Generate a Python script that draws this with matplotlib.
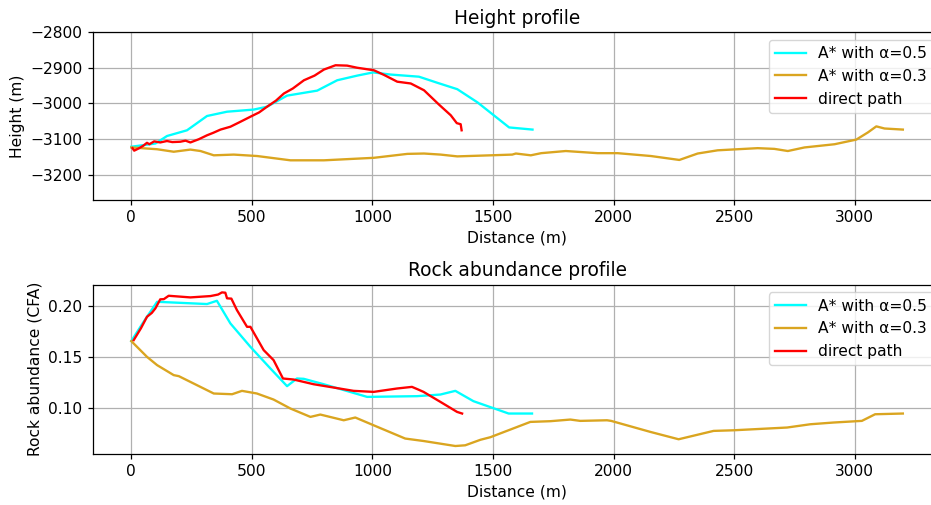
import matplotlib
matplotlib.use("Agg")
import matplotlib.pyplot as plt

# Height profile data
h_a05_x = [0, 100, 148, 231, 314, 397, 508, 563, 646, 771, 854, 937, 1003, 1075,
           1193, 1269, 1352, 1436, 1567, 1664]
h_a05_y = [-3121, -3112, -3091, -3075, -3035, -3023, -3017, -3009, -2978, -2964,
           -2935, -2922, -2913, -2919, -2925, -2942, -2960, -2997, -3067, -3073]

h_a03_x = [0, 107, 176, 245, 287, 342, 425, 522, 660, 799, 1006, 1145, 1214, 1283,
           1352, 1491, 1580, 1595, 1657, 1700, 1802, 1934, 2017, 2155, 2273, 2349,
           2432, 2598, 2667, 2723, 2792, 2917, 3007, 3055, 3090, 3124, 3200]
h_a03_y = [-3123, -3128, -3135, -3129, -3133, -3145, -3143, -3147, -3159, -3159,
           -3152, -3141, -3140, -3143, -3148, -3145, -3143, -3140, -3145, -3139,
           -3133, -3139, -3139, -3147, -3158, -3140, -3131, -3125, -3127, -3133,
           -3123, -3114, -3101, -3081, -3064, -3070, -3073]

h_dir_x = [5, 12, 30, 50, 65, 75, 95, 120, 148, 170, 203, 225, 245, 280, 314, 340,
           370, 411, 450, 494, 530, 563, 600, 633, 670, 716, 760, 799, 847, 895,
           937, 1006, 1048, 1103, 1159, 1214, 1276, 1325, 1350, 1366, 1370]
h_dir_y = [-3125, -3132, -3126, -3118, -3110, -3114, -3106, -3109, -3105, -3108,
           -3107, -3104, -3109, -3100, -3089, -3082, -3073, -3065, -3052, -3037,
           -3025, -3009, -2992, -2972, -2958, -2935, -2922, -2905, -2893, -2894,
           -2900, -2907, -2920, -2939, -2944, -2963, -3003, -3033, -3055, -3058,
           -3075]

# Rock abundance data
r_a05_x = [0, 51, 107, 314, 355, 411, 494, 577, 646, 687, 715, 798, 978, 1185,
           1282, 1344, 1419, 1565, 1662]
r_a05_y = [0.1654, 0.1843, 0.2039, 0.2017, 0.2049, 0.1827, 0.1598, 0.1386, 0.1213,
           0.1288, 0.1285, 0.1232, 0.1108, 0.1115, 0.1131, 0.1167, 0.1066, 0.0945,
           0.0945]

r_a03_x = [0, 65, 107, 176, 197, 342, 418, 459, 521, 590, 660, 743, 784, 881, 929,
           1005, 1136, 1212, 1344, 1385, 1448, 1489, 1655, 1738, 1821, 1862, 1973,
           1990, 2153, 2270, 2415, 2498, 2720, 2816, 2913, 3030, 3085, 3200]
r_a03_y = [0.1654, 0.1500, 0.1419, 0.1321, 0.1311, 0.1141, 0.1134, 0.1167, 0.1141,
           0.1082, 0.0994, 0.0912, 0.0935, 0.0879, 0.0906, 0.0830, 0.0700, 0.0676,
           0.0627, 0.0634, 0.0688, 0.0713, 0.0863, 0.0870, 0.0886, 0.0873, 0.0879,
           0.0873, 0.0765, 0.0693, 0.0775, 0.0781, 0.0808, 0.0840, 0.0857, 0.0873,
           0.0938, 0.0945]

r_dir_x = [10, 40, 65, 85, 100, 120, 135, 155, 245, 328, 360, 376, 390, 397, 415,
           438, 480, 494, 549, 590, 629, 673, 756, 922, 1005, 1102, 1164, 1190, 1212,
           1282, 1351, 1372]
r_dir_y = [0.1664, 0.1780, 0.1892, 0.1930, 0.1975, 0.2063, 0.2065, 0.2098, 0.2082,
           0.2095, 0.2110, 0.2131, 0.2128, 0.2073, 0.2070, 0.1958, 0.1794, 0.1794,
           0.1566, 0.1468, 0.1288, 0.1278, 0.1232, 0.1167, 0.1157, 0.1190, 0.1206,
           0.1180, 0.1157, 0.1059, 0.0961, 0.0945]

labels = ["A* with α=0.5", "A* with α=0.3", "direct path"]
colors = ["cyan", "goldenrod", "red"]

# the reference looks rendered a bit larger than default
k = 1.12
plt.rcParams.update({
    "font.size": 10 * k,
    "lines.linewidth": 1.5 * k,
    "grid.linewidth": 0.8 * k,
    "axes.linewidth": 0.8 * k,
    "xtick.major.size": 3.5 * k,
    "ytick.major.size": 3.5 * k,
    "xtick.major.width": 0.8 * k,
    "ytick.major.width": 0.8 * k,
})

fig = plt.figure(figsize=(9.31, 5.05), dpi=100)
ax1 = fig.add_axes([0.0996, 0.604, 0.9116, 0.3326])
ax2 = fig.add_axes([0.0996, 0.1016, 0.9116, 0.3346])

ax1.plot(h_a05_x, h_a05_y, color=colors[0], label=labels[0])
ax1.plot(h_a03_x, h_a03_y, color=colors[1], label=labels[1])
ax1.plot(h_dir_x, h_dir_y, color=colors[2], label=labels[2])
ax1.set_ylim(-3270, -2800)
ax1.set_title("Height profile")
ax1.set_xlabel("Distance (m)")
ax1.set_ylabel("Height (m)")
ax1.grid(True)
ax1.legend(loc="upper right")

ax2.plot(r_a05_x, r_a05_y, color=colors[0], label=labels[0])
ax2.plot(r_a03_x, r_a03_y, color=colors[1], label=labels[1])
ax2.plot(r_dir_x, r_dir_y, color=colors[2], label=labels[2])
ax2.set_title("Rock abundance profile")
ax2.set_xlabel("Distance (m)")
ax2.set_ylabel("Rock abundance (CFA)")
ax2.grid(True)
ax2.legend(loc="upper right")

fig.savefig("out.png", dpi=100)
